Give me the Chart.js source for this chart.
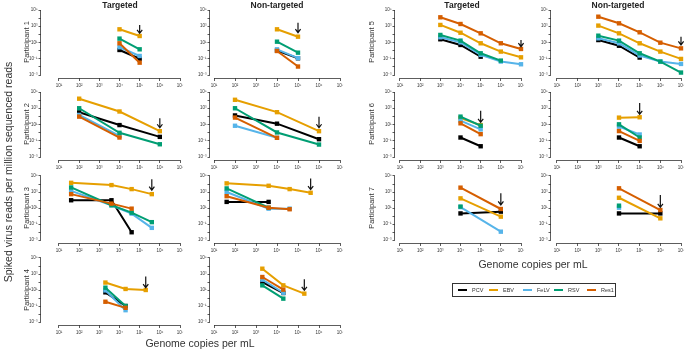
<!DOCTYPE html>
<html>
<head>
<meta charset="utf-8">
<script src="https://cdn.jsdelivr.net/npm/chart.js@4.4.0/dist/chart.umd.min.js"></script>
<style>
  body { margin: 0; width: 685px; height: 350px; position: relative; background: #fff; overflow: hidden;
         font-family: "Liberation Sans", Arial, sans-serif; color: #222; }
  canvas { position: absolute; }
  .lbl { position: absolute; white-space: nowrap; transform: translate(-50%, -50%); }
  .rot { transform: translate(-50%, -50%) rotate(-90deg); }
  .title { font-weight: bold; font-size: 8.5px; }
  .part { font-size: 7.5px; color: #333; }
  .axis { font-size: 10.5px; color: #333; }
  #legend { position: absolute; left: 452px; top: 283px; width: 162px; height: 12px; border: 1px solid #333;
            font-size: 5.5px; color: #333; }
  #legend span { position: absolute; top: 3px; }
  #legend i { position: absolute; top: 5px; width: 9px; height: 2px; }
</style>
</head>
<body>
<div id="charts"></div>

<div class="lbl title" style="left:120px;top:5px">Targeted</div>
<div class="lbl title" style="left:277px;top:5px">Non-targeted</div>
<div class="lbl title" style="left:462px;top:5px">Targeted</div>
<div class="lbl title" style="left:618px;top:5px">Non-targeted</div>

<div class="lbl part rot" style="left:26px;top:42px">Participant 1</div>
<div class="lbl part rot" style="left:26px;top:124px">Participant 2</div>
<div class="lbl part rot" style="left:26px;top:208px">Participant 3</div>
<div class="lbl part rot" style="left:26px;top:290px">Participant 4</div>
<div class="lbl part rot" style="left:371px;top:42px">Participant 5</div>
<div class="lbl part rot" style="left:371px;top:124px">Participant 6</div>
<div class="lbl part rot" style="left:371px;top:208px">Participant 7</div>

<div class="lbl axis rot" style="left:8px;top:172px">Spiked virus reads per million sequenced reads</div>
<div class="lbl axis" style="left:200px;top:343px">Genome copies per mL</div>
<div class="lbl axis" style="left:533px;top:264px">Genome copies per mL</div>

<div id="legend"></div>

<script>
const viruses = ["PCV", "EBV", "FeLV", "RSV", "Res1"];
const virusColors = ["#000000", "#E69F00", "#56B4E9", "#009E73", "#D55E00"];

// tick labels (powers of ten)
const xTickExps = [1, 2, 3, 4, 5, 6, 7];
const yTickExps = [-3, -2, -1, 0, 1, 2, 3, 4, 5];

// each series is [PCV, EBV, FeLV, RSV, Res1]; arrows are [copies, top, tip]
const p1Copies = [1e4, 1e5];
const p1Targeted = [[1.2, 0.1], [420, 63], [2.6, 0.22], [30, 1.45], [8, 0.033]];
const p1NonTargeted = [[1.0, 0.115], [420, 52], [1.45, 0.12], [12.6, 0.56], [0.9, 0.011]];
const p1ArrowT = [1e5, 1400, 135];
const p1ArrowNT = [1e5, 2750, 160];

const p2Copies = [1e2, 1e4, 1e6];
const p2Targeted = [[320, 8.5, 0.3], [1.5e4, 400, 1.5], [150, 0.4, null], [1000, 0.95, 0.037], [93, 0.25, null]];
const p2NonTargeted = [[130, 12.6, 0.155], [1.1e4, 330, 1.5], [7, 0.23, null], [1000, 1.05, 0.034], [71, 0.23, null]];
const p2ArrowT = [1e6, 58, 4];
const p2ArrowNT = [1e6, 93, 4];

const p3Copies = [40, 4e3, 4e4, 4e5];
const p3Targeted = [[93, 93, 0.0093, null], [1.4e4, 7.3e3, 2.3e3, 540], [1400, 22, 2.0, 0.033],
                    [3700, 22, 2.6, 0.17], [540, 35, 8.3, null]];
const p3NonTargeted = [[58, 58, null, null], [1.2e4, 6e3, 2.3e3, 800], [1000, 8.3, 8.3, null],
                       [2800, 11, null, null], [300, 11, 7, null]];
const p3ArrowT = [4e5, 3.8e4, 1700];
const p3ArrowNT = [4e5, 5e4, 2000];

const p4Copies = [2e3, 2e4, 2e5];
const p4Targeted = [[5.1, 0.1, null], [85, 13.5, 10], [9, 0.03, null], [19.5, 0.1, null], [0.34, 0.059, null]];
const p4NonTargeted = [[100, 4.2, null], [4600, 38, 3.5], [195, 4.5, null], [38, 0.83, null], [420, 11, null]];
const p4ArrowT = [2e5, 480, 19.5];
const p4ArrowNT = [2e5, 215, 9];

const p5Copies = [1e3, 1e4, 1e5, 1e6, 1e7];
const p5Targeted = [[25, 5, 0.18, null, null], [1450, 160, 8, 0.76, 0.15], [44, 10.5, 0.3, 0.045, 0.021],
                    [85, 17, 0.47, 0.059, null], [12600, 1900, 135, 8, 1.6]];
const p5NonTargeted = [[20, 4, 0.14, null, null], [1200, 135, 8, 0.76, 0.095], [33, 8, 0.25, 0.045, 0.023],
                       [69, 17, 0.47, 0.045, 0.002], [15000, 2300, 180, 9.5, 1.9]];
const p5ArrowT = [1e7, 20, 3.1];
const p5ArrowNT = [1e7, 52, 5];

const p6Copies = [1e4, 1e5];
const p6Targeted = [[0.25, 0.021], [60, 8.5], [30, 2.5], [93, 7], [14, 0.65]];
const p6NonTargeted = [[0.25, 0.021], [70, 78], [5.4, 0.59], [10.5, 0.25], [1.55, 0.095]];
const p6ArrowT = [1e5, 480, 18.6];
const p6ArrowNT = [1e5, 4300, 180];

const p7Copies = [1e4, 1e6];
const p7Targeted = [[2.1, 3.5], [160, 0.83], [13, 0.011], [15, null], [3500, 7.5]];
const p7NonTargeted = [[2.1, 2.1], [190, 0.51], [11, null], [19.5, null], [2900, 5.6]];
const p7ArrowT = [1e6, 680, 24];
const p7ArrowNT = [1e6, 430, 12];

// layout of the panel grid (pixels)
const cols = {
  LT:  { L: 41,  p1: 59,  ppd: 20.17 },
  LNT: { L: 210, p1: 214, ppd: 21 },
  RT:  { L: 395, p1: 400, ppd: 20.17 },
  RNT: { L: 551, p1: 557, ppd: 20.67 },
};
const rows = [
  { y5: 10,  ppd: 8.125 },
  { y5: 92,  ppd: 8.125 },
  { y5: 176, ppd: 8 },
  { y5: 258, ppd: 8 },
];

const panels = [
  [0, "LT", p1Copies, p1Targeted, p1ArrowT], [0, "LNT", p1Copies, p1NonTargeted, p1ArrowNT],
  [1, "LT", p2Copies, p2Targeted, p2ArrowT], [1, "LNT", p2Copies, p2NonTargeted, p2ArrowNT],
  [2, "LT", p3Copies, p3Targeted, p3ArrowT], [2, "LNT", p3Copies, p3NonTargeted, p3ArrowNT],
  [3, "LT", p4Copies, p4Targeted, p4ArrowT], [3, "LNT", p4Copies, p4NonTargeted, p4ArrowNT],
  [0, "RT", p5Copies, p5Targeted, p5ArrowT], [0, "RNT", p5Copies, p5NonTargeted, p5ArrowNT],
  [1, "RT", p6Copies, p6Targeted, p6ArrowT], [1, "RNT", p6Copies, p6NonTargeted, p6ArrowNT],
  [2, "RT", p7Copies, p7Targeted, p7ArrowT], [2, "RNT", p7Copies, p7NonTargeted, p7ArrowNT],
];

const supers = { "-": "⁻", "0": "⁰", "1": "¹", "2": "²", "3": "³", "4": "⁴", "5": "⁵", "6": "⁶", "7": "⁷" };
function powLabel(v) {
  const e = Math.round(Math.log10(v));
  return "10" + String(e).split("").map(c => supers[c]).join("");
}

// R style axes: line only from first to last tick, plus the arrow marker
const rAxes = {
  id: "rAxes",
  afterDatasetsDraw(chart) {
    const ctx = chart.ctx;
    const xs = chart.scales.x, ys = chart.scales.y, area = chart.chartArea;
    ctx.save();
    ctx.strokeStyle = "#333";
    ctx.lineWidth = 0.8;
    ctx.beginPath();
    ctx.moveTo(xs.getPixelForValue(10 ** xTickExps[0]), area.bottom + 0.5);
    ctx.lineTo(xs.getPixelForValue(10 ** xTickExps[xTickExps.length - 1]), area.bottom + 0.5);
    ctx.moveTo(area.left - 0.5, ys.getPixelForValue(10 ** yTickExps[0]));
    ctx.lineTo(area.left - 0.5, ys.getPixelForValue(10 ** yTickExps[yTickExps.length - 1]));
    ctx.stroke();

    const arrow = chart.options.plugins.rAxes.arrow;
    if (arrow) {
      const ax = xs.getPixelForValue(arrow[0]);
      const y1 = ys.getPixelForValue(arrow[1]);
      const y2 = ys.getPixelForValue(arrow[2]);
      ctx.strokeStyle = "#111";
      ctx.lineWidth = 1.2;
      ctx.beginPath();
      ctx.moveTo(ax, y1);
      ctx.lineTo(ax, y2);
      ctx.moveTo(ax - 2.6, y2 - 3.5);
      ctx.lineTo(ax, y2);
      ctx.lineTo(ax + 2.6, y2 - 3.5);
      ctx.stroke();
    }
    ctx.restore();
  }
};

const tickFont = { family: "Liberation Sans", size: 4.5 };

panels.forEach(([rowIdx, colKey, copies, series, arrow]) => {
  const col = cols[colKey], row = rows[rowIdx];
  const p7 = col.p1 + 6 * col.ppd;
  const R = p7 + 3;
  const xmin = 10 ** (1 - (col.p1 - col.L) / col.ppd);
  const xmax = 10 ** (7 + 3 / col.ppd);
  const top = row.y5 - 3;
  const B = row.y5 + 8 * row.ppd + 3;
  const ymax = 10 ** (5 + 3 / row.ppd);
  const ymin = 10 ** (-3 - 3 / row.ppd);

  const left = col.L - 24;
  const ctop = top - 6;
  const W = Math.round(R - left + 6);
  const H = Math.round(B - ctop + 13);

  const canvas = document.createElement("canvas");
  canvas.width = W;
  canvas.height = H;
  canvas.style.left = left + "px";
  canvas.style.top = ctop + "px";
  document.getElementById("charts").appendChild(canvas);

  new Chart(canvas.getContext("2d"), {
    type: "line",
    data: {
      datasets: viruses.map((name, i) => ({
        label: name,
        data: copies.map((c, j) => ({ x: c, y: series[i][j] })),
        borderColor: virusColors[i],
        backgroundColor: virusColors[i],
        borderWidth: 2,
        pointStyle: "rect",
        pointRadius: 3.1,
        pointBorderWidth: 0,
        spanGaps: false,
        order: viruses.length - i, // later viruses drawn on top, as in R
      })),
    },
    options: {
      responsive: false,
      animation: false,
      events: [],
      layout: { padding: { left: 0, top: 6, right: 6, bottom: 0 } },
      plugins: { legend: { display: false }, tooltip: { enabled: false }, rAxes: { arrow: arrow } },
      scales: {
        x: {
          type: "logarithmic",
          min: xmin,
          max: xmax,
          bounds: "data",
          afterBuildTicks: (s) => { s.ticks = xTickExps.map(e => ({ value: 10 ** e })); },
          afterFit: (s) => { s.height = 13; },
          ticks: { callback: (v) => powLabel(v), font: tickFont, color: "#333", padding: 2, maxRotation: 0, autoSkip: false },
          grid: { display: true, drawOnChartArea: false, drawTicks: true, tickLength: 3, color: "#333", lineWidth: 0.8 },
          border: { display: false },
        },
        y: {
          type: "logarithmic",
          min: ymin,
          max: ymax,
          bounds: "data",
          afterBuildTicks: (s) => { s.ticks = yTickExps.map(e => ({ value: 10 ** e })); },
          afterFit: (s) => { s.width = 24; },
          ticks: {
            callback: (v) => (Math.round(Math.log10(v)) % 2 !== 0 ? powLabel(v) : ""),
            font: tickFont, color: "#333", padding: 1, autoSkip: false,
          },
          grid: { display: true, drawOnChartArea: false, drawTicks: true, tickLength: 2.5, color: "#333", lineWidth: 0.8 },
          border: { display: false },
        },
      },
    },
    plugins: [rAxes],
  });
});

// legend
const legend = document.getElementById("legend");
const legendX = [5, 36, 70, 101, 134];
viruses.forEach((name, i) => {
  const line = document.createElement("i");
  line.style.left = legendX[i] + "px";
  line.style.background = virusColors[i];
  legend.appendChild(line);
  const txt = document.createElement("span");
  txt.style.left = (legendX[i] + 14) + "px";
  txt.textContent = name;
  legend.appendChild(txt);
});
</script>
</body>
</html>
